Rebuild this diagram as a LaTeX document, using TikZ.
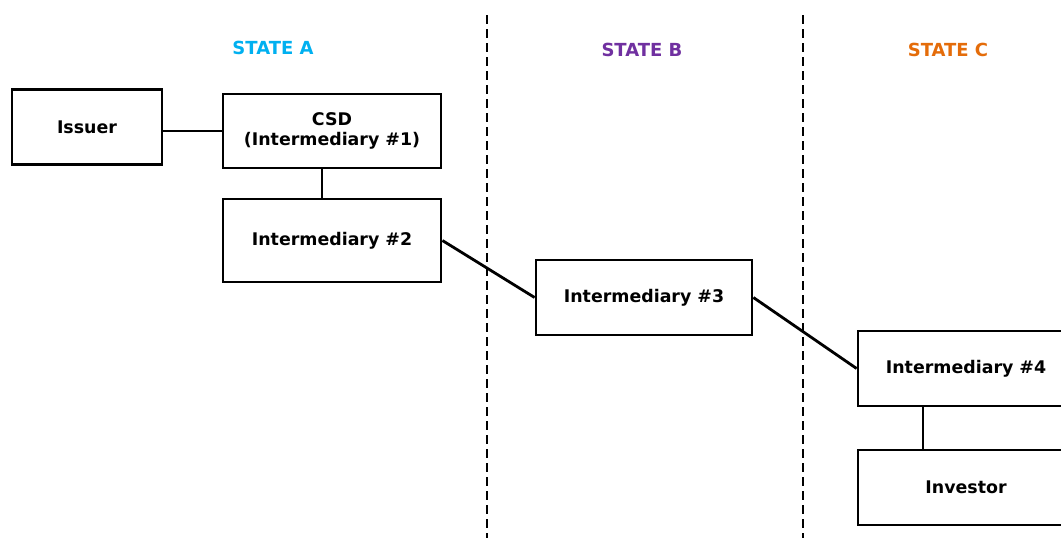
\documentclass[tikz,border=0pt]{standalone}
\usepackage{fontspec}
\setmainfont{DejaVu Sans}
\definecolor{stA}{RGB}{0,176,240}
\definecolor{stB}{RGB}{112,48,160}
\definecolor{stC}{RGB}{228,108,10}
\begin{document}
\begin{tikzpicture}[x=1pt,y=-1pt,
  box/.style={draw,line width=2.8pt,minimum height=75pt,inner sep=0pt,align=center,font=\fontsize{17.4}{19.5}\selectfont\bfseries},
  link/.style={line width=2.8pt},
  sep/.style={line width=2.8pt,dash pattern=on 9pt off 5pt},
  head/.style={font=\fontsize{18}{20}\selectfont\bfseries}]
\useasboundingbox (0,0) rectangle (1061,538);
\begin{scope}
\clip (0,0) rectangle (1061,538);
\node[head,text=stA] (ha) at (273,48) {STATE A};
\node[head,text=stB] (hb) at (642,50) {STATE B};
\node[head,text=stC] (hc) at (948,50) {STATE C};
\coordinate (d1t) at (487,15); \coordinate (d1b) at (487,538);
\coordinate (d2t) at (803,15); \coordinate (d2b) at (803,538);
\draw[sep] (d1t) -- (d1b);
\draw[sep] (d2t) -- (d2b);
\node[box,minimum width=150pt] (issuer) at (87,127) {Issuer};
\node[box,minimum width=218pt,minimum height=74pt] (csd) at (332,131) {CSD\\(Intermediary \#1)};
\node[box,minimum width=218pt,minimum height=83pt] (i2) at (332,240.5) {Intermediary \#2};
\node[box,minimum width=216pt] (i3) at (644,297.5) {Intermediary \#3};
\node[box,minimum width=216pt] (i4) at (966,368.5) {Intermediary \#4};
\node[box,minimum width=216pt] (inv) at (966,487.5) {Investor};
\draw[link] (issuer.east |- csd.west) -- (csd.west);
\draw[link] ([xshift=-10pt]csd.south) -- ([xshift=-10pt]csd.south |- i2.north);
\draw[link] (i2.east) -- (i3.west);
\draw[link] (i3.east) -- (i4.west);
\draw[link] (i4.south -| 923,0) -- (inv.north -| 923,0);
\end{scope}
\end{tikzpicture}
\end{document}
